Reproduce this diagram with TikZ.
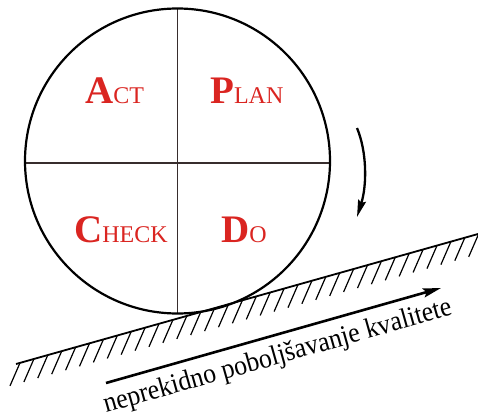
\documentclass[tikz,border=0pt]{standalone}
\usepackage{fontspec}
\setmainfont{Liberation Serif}
\usetikzlibrary{arrows.meta,calc}
\definecolor{pdcared}{RGB}{218,37,33}
\definecolor{divgray}{RGB}{55,45,45}
\tikzset{
  quad/.style={anchor=base west, inner sep=0pt, text=pdcared},
  divider/.style={draw=divgray, line width=1.3pt},
  ground/.style={line width=1.8pt},
  hatch/.style={line width=1.2pt},
  bigarrow/.style={line width=2.6pt, -{Stealth[length=18pt,width=9pt,inset=3pt]}},
}
\newcommand{\bigL}[1]{{\fontsize{39}{39}\selectfont\bfseries #1}}
\newcommand{\smL}[1]{{\fontsize{24}{24}\selectfont #1}}
\begin{document}
\begin{tikzpicture}[x=1pt,y=-1pt]
\useasboundingbox (0,0) rectangle (478,414);
\begin{scope}
\clip (0,0) rectangle (478,414);
% circle and dividers
\coordinate (c) at (177.5,161);
\draw[divider] (177.5,8.5) -- (177.5,313.5);
\draw[divider] (25,163) -- (330,163);
\draw[line width=2.2pt] (c) circle[radius=152.5];
% labels
\node[quad] (act) at (85,104) {\bigL{A}\smL{CT}};
\node[quad] (plan) at (210,104) {\bigL{P}\smL{LAN}};
\node[quad] (check) at (74,242) {\bigL{C}\smL{HECK}};
\node[quad] (do) at (221,242) {\bigL{D}\smL{O}};
% rotation arrow
\coordinate (r1) at (357,128);
\coordinate (r2) at (357,217);
\draw[line width=2.3pt, -{Stealth[length=17pt,width=8pt,inset=2pt]}] (r1) .. controls (367,152) and (367,185) .. (r2);
% ground
\coordinate (g1) at (16,364);
\coordinate (g2) at (478,234);
\draw[ground] (g1) -- (g2);
\foreach \k in {0,...,33} {
  \pgfmathsetmacro{\t}{(4+13.9*\k)/462}
  \draw[hatch] ($(g1)!\t!(g2)$) -- ++(-10,23);
}
% improvement arrow
\coordinate (a1) at (106,383);
\coordinate (a2) at (441,288);
\draw[bigarrow] (a1) -- (a2);
\node[anchor=base west, inner sep=0pt, rotate=15.8, xscale=0.92, font=\fontsize{28}{28}\selectfont] (txt) at (106,413) {neprekidno poboljšavanje kvalitete};
\end{scope}
\end{tikzpicture}
\end{document}
